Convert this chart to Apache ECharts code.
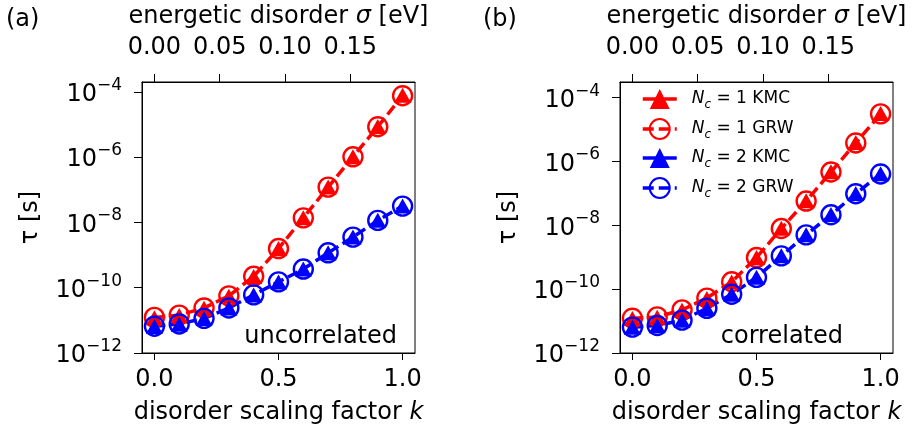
<!DOCTYPE html>
<html>
<head>
<meta charset="utf-8">
<script src="https://cdn.jsdelivr.net/npm/echarts@6/dist/echarts.min.js"></script>
<style>html,body{margin:0;padding:0;background:#fff;}#c{width:914px;height:435px;}</style>
</head>
<body>
<div id="c"></div>
<script>
// ---- data ----
const kValues = [0, 0.1, 0.2, 0.3, 0.4, 0.5, 0.6, 0.7, 0.8, 0.9, 1.0];
// panel (a) uncorrelated, tau [s]
const uncorrN1KMC = [1.20e-11, 1.42e-11, 2.35e-11, 5.5e-11, 2.2e-10, 1.60e-9, 1.40e-8, 1.22e-7, 1.03e-6, 8.6e-6, 7.8e-5];
const uncorrN1GRW = [1.23e-11, 1.45e-11, 2.40e-11, 5.62e-11, 2.24e-10, 1.58e-9, 1.38e-8, 1.20e-7, 1.02e-6, 8.51e-6, 7.59e-5];
const uncorrN2KMC = [6.5e-12, 7.6e-12, 1.13e-11, 2.38e-11, 6.0e-11, 1.50e-10, 3.75e-10, 1.18e-9, 3.6e-9, 1.16e-8, 3.2e-8];
const uncorrN2GRW = [6.61e-12, 7.76e-12, 1.15e-11, 2.40e-11, 6.03e-11, 1.51e-10, 3.72e-10, 1.17e-9, 3.55e-9, 1.15e-8, 3.16e-8];
// panel (b) correlated, tau [s]
const corrN1KMC = [1.20e-11, 1.33e-11, 2.2e-11, 5.1e-11, 1.68e-10, 9.9e-10, 8.1e-9, 5.9e-8, 4.8e-7, 3.9e-6, 3.2e-5];
const corrN1GRW = [1.23e-11, 1.35e-11, 2.24e-11, 5.25e-11, 1.70e-10, 9.77e-10, 7.94e-9, 5.75e-8, 4.68e-7, 3.80e-6, 3.09e-5];
const corrN2KMC = [6.4e-12, 7.2e-12, 1.06e-11, 2.5e-11, 6.9e-11, 2.36e-10, 1.12e-9, 5.1e-9, 2.18e-8, 1.0e-7, 4.15e-7];
const corrN2GRW = [6.46e-12, 7.24e-12, 1.07e-11, 2.51e-11, 6.92e-11, 2.34e-10, 1.10e-9, 5.01e-9, 2.14e-8, 9.77e-8, 4.07e-7];
// axes
const kTicks = [0, 0.5, 1.0];
const sigmaTicks = [0, 0.05, 0.10, 0.15];
const sigmaPerK = 0.19;
const tauTicks = [1e-12, 1e-10, 1e-8, 1e-6, 1e-4];
const panelLabels = ['(a)', '(b)'];
const panelNotes = ['uncorrelated', 'correlated'];
const legendNames = ['N1 KMC', 'N1 GRW', 'N2 KMC', 'N2 GRW'];

// ---- chart ----
const FONT = 'DejaVu Sans';
const BLACK = '#000';
const RED = '#ff0000';
const BLUE = '#0000ff';
const chart = echarts.init(document.getElementById('c'), null, {renderer: 'canvas'});

const grids = [
  {left: 142, top: 74, width: 273, height: 279},
  {left: 620, top: 74, width: 273, height: 279}
];
const yMax = [Math.pow(10, -3.70), Math.pow(10, -3.51)];

function pairs(ys) { return kValues.map((k, i) => [k, ys[i]]); }

const xAxes = [], yAxes = [];
grids.forEach((g, gi) => {
  xAxes.push({
    type: 'value', gridIndex: gi, position: 'bottom', min: -0.05, max: 1.05,
    name: 'disorder scaling factor {i|k}', nameLocation: 'middle', nameGap: 48,
    nameTextStyle: {fontFamily: FONT, fontSize: 24, color: BLACK,
      rich: {i: {fontFamily: FONT, fontSize: 24, fontStyle: 'italic', color: BLACK}}},
    axisLine: {show: true, onZero: false, lineStyle: {color: BLACK, width: 1}},
    axisTick: {show: true, length: 7, lineStyle: {color: BLACK, width: 1}, customValues: kTicks},
    axisLabel: {show: true, margin: 15, fontFamily: FONT, fontSize: 24, color: BLACK,
      customValues: kTicks, formatter: v => Number(v).toFixed(1)},
    splitLine: {show: false}
  });
  xAxes.push({
    type: 'value', gridIndex: gi, position: 'top', min: -0.05 * sigmaPerK, max: 1.05 * sigmaPerK,
    name: 'energetic disorder {i|σ} [eV]', nameLocation: 'middle', nameGap: 53,
    nameTextStyle: {fontFamily: FONT, fontSize: 24, color: BLACK,
      rich: {i: {fontFamily: FONT, fontSize: 24, fontStyle: 'italic', color: BLACK}}},
    axisLine: {show: true, onZero: false, lineStyle: {color: BLACK, width: 1}},
    axisTick: {show: true, length: 8, lineStyle: {color: BLACK, width: 1}, customValues: sigmaTicks},
    axisLabel: {show: true, margin: 22, fontFamily: FONT, fontSize: 24, color: BLACK,
      customValues: sigmaTicks, formatter: v => Number(v).toFixed(2)},
    splitLine: {show: false}
  });
  yAxes.push({
    type: 'log', logBase: 10, gridIndex: gi, position: 'left', min: 1e-12, max: yMax[gi],
    name: 'τ [s]', nameLocation: 'middle', nameRotate: 90, nameGap: 99,
    nameTextStyle: {fontFamily: FONT, fontSize: 24, color: BLACK},
    axisLine: {show: true, onZero: false, lineStyle: {color: BLACK, width: 1}},
    axisTick: {show: true, length: 8, lineStyle: {color: BLACK, width: 1}, customValues: tauTicks},
    axisLabel: {show: true, margin: 20, color: BLACK, customValues: tauTicks,
      formatter: v => { const e = Math.round(Math.log10(v)); return '{b|10}{s|' + (e < 0 ? '\u2212' : '') + Math.abs(e) + '}'; },
      rich: {
        b: {fontFamily: FONT, fontSize: 24, color: BLACK, lineHeight: 30, verticalAlign: 'bottom'},
        s: {fontFamily: FONT, fontSize: 17, color: BLACK, lineHeight: 19, verticalAlign: 'top'}
      }},
    splitLine: {show: false}, minorTick: {show: false}
  });
});

function kmc(name, ys, color, gi) {
  return {
    type: 'line', name: name, xAxisIndex: gi * 2, yAxisIndex: gi, data: pairs(ys),
    symbol: 'triangle', symbolSize: [17, 15], showSymbol: true,
    itemStyle: {color: color, borderWidth: 0},
    lineStyle: {color: color, width: 0, opacity: 0},
    animation: false, silent: true, z: 3
  };
}
function grw(name, ys, color, gi) {
  return {
    type: 'line', name: name, xAxisIndex: gi * 2, yAxisIndex: gi, data: pairs(ys),
    symbol: 'circle', symbolSize: 19, showSymbol: true,
    itemStyle: {color: 'rgba(0,0,0,0)', borderColor: color, borderWidth: 2.4},
    lineStyle: {color: color, width: 3.5, type: [11, 5]},
    animation: false, silent: true, z: 3
  };
}

const series = [
  kmc(legendNames[0], uncorrN1KMC, RED, 0),
  grw(legendNames[1], uncorrN1GRW, RED, 0),
  kmc(legendNames[2], uncorrN2KMC, BLUE, 0),
  grw(legendNames[3], uncorrN2GRW, BLUE, 0),
  kmc(legendNames[0], corrN1KMC, RED, 1),
  grw(legendNames[1], corrN1GRW, RED, 1),
  kmc(legendNames[2], corrN2KMC, BLUE, 1),
  grw(legendNames[3], corrN2GRW, BLUE, 1)
];

const legendFmt = {
  'N1 KMC': '{i|N}{c|c}{t| = 1 KMC}',
  'N1 GRW': '{i|N}{c|c}{t| = 1 GRW}',
  'N2 KMC': '{i|N}{c|c}{t| = 2 KMC}',
  'N2 GRW': '{i|N}{c|c}{t| = 2 GRW}'
};

const option = {
  backgroundColor: '#fff',
  animation: false,
  grid: grids.map(g => Object.assign({show: true, borderColor: BLACK, borderWidth: 1, backgroundColor: 'transparent', containLabel: false}, g)),
  xAxis: xAxes,
  yAxis: yAxes,
  legend: {
    show: true, orient: 'vertical', left: 636, top: 84,
    itemWidth: 34, itemHeight: 25, itemGap: 7,
    data: legendNames.map(n => ({
      name: n,
      lineStyle: n.indexOf('KMC') >= 0 ? {width: 3.5, opacity: 1, type: 'solid'} : {width: 3.5, type: [11, 5]}
    })),
    formatter: n => legendFmt[n],
    textStyle: {
      fontFamily: FONT, fontSize: 17, color: BLACK,
      rich: {
        i: {fontFamily: FONT, fontSize: 17, fontStyle: 'italic', color: BLACK, lineHeight: 24, verticalAlign: 'middle', padding: [0, 0, 0, 10]},
        c: {fontFamily: FONT, fontSize: 12, fontStyle: 'italic', color: BLACK, lineHeight: 13, verticalAlign: 'bottom'},
        t: {fontFamily: FONT, fontSize: 17, color: BLACK, lineHeight: 24, verticalAlign: 'middle'}
      }
    },
    selectedMode: false
  },
  graphic: [
    {type: 'text', left: 6, top: 8, style: {text: panelLabels[0], font: '24px "' + FONT + '"', fill: BLACK}},
    {type: 'text', left: 483, top: 8, style: {text: panelLabels[1], font: '24px "' + FONT + '"', fill: BLACK}},
    {type: 'text', x: 397, y: 336.5, style: {text: panelNotes[0], font: '24px "' + FONT + '"', fill: BLACK, align: 'right', verticalAlign: 'middle'}, z: 10},
    {type: 'text', x: 843, y: 336.5, style: {text: panelNotes[1], font: '24px "' + FONT + '"', fill: BLACK, align: 'right', verticalAlign: 'middle'}, z: 10}
  ],
  series: series
};
chart.setOption(option);
</script>
</body>
</html>
